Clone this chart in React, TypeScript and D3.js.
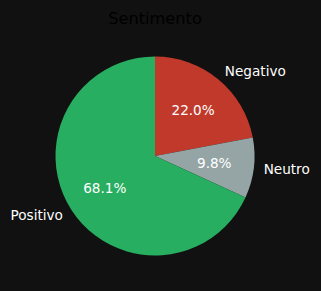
import React from "react";
import * as d3 from "d3";

const categories = ["Negativo", "Neutro", "Positivo"];
const values = [22.0, 9.8, 68.1];
const colors = ["#c0392b", "#95a5a6", "#27ae60"];
const title = "Sentimento";

export default function App() {
  const W = 321, H = 291;
  const cx = 155, cy = 156, r = 99.5;
  const pie = d3.pie<number>().sort(null).value((d) => d)(values);
  const arc = d3.arc<d3.PieArcDatum<number>>().innerRadius(0).outerRadius(r);
  const font = "DejaVu Sans, sans-serif";
  return (
    <div style={{ position: "fixed", left: 0, top: 0, width: W, height: H, background: "#111111" }}>
      <svg width={W} height={H} style={{ display: "block" }}>
        <rect width={W} height={H} fill="#111111" />
        <text x={cx} y={24} textAnchor="middle" fontFamily={font} fontSize={16.2} fill="#000000">{title}</text>
        <g transform={`translate(${cx},${cy})`}>
          {pie.map((p, i) => (
            <path key={i} d={arc(p) || ""} fill={colors[i]} />
          ))}
          {pie.map((p, i) => {
            const a = (p.startAngle + p.endAngle) / 2;
            const lx = 1.1 * r * Math.sin(a);
            const ly = -1.1 * r * Math.cos(a);
            const px = 0.6 * r * Math.sin(a);
            const py = -0.6 * r * Math.cos(a);
            return (
              <g key={"t" + i}>
                <text x={lx} y={ly} dy="0.35em" textAnchor={lx >= 0 ? "start" : "end"} fontFamily={font} fontSize={13.6} fill="#ffffff">{categories[i]}</text>
                <text x={px} y={py} dy="0.35em" textAnchor="middle" fontFamily={font} fontSize={13.6} fill="#ffffff">{values[i].toFixed(1) + "%"}</text>
              </g>
            );
          })}
        </g>
      </svg>
    </div>
  );
}
